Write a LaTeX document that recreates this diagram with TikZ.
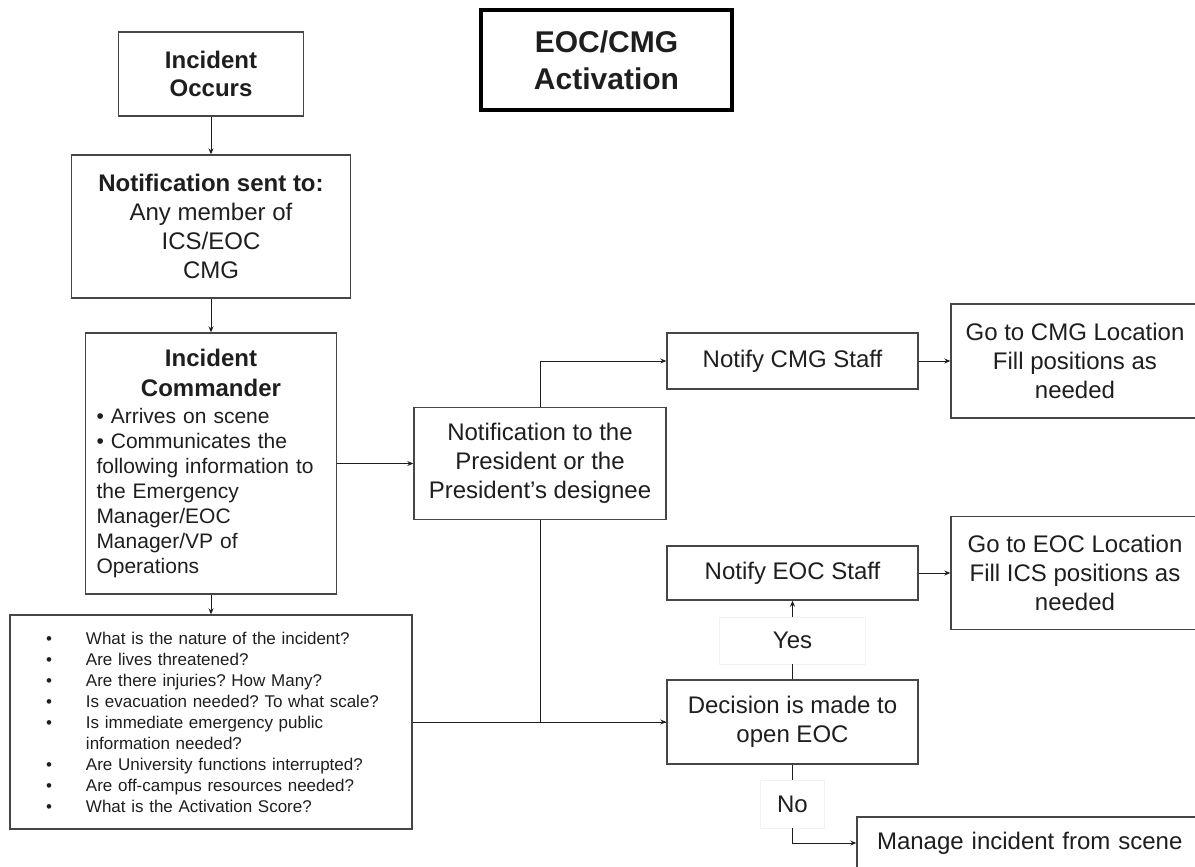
\documentclass[tikz,border=0pt]{standalone}
\usepackage{fontspec}
\setmainfont{Liberation Sans}
\usepackage{tikz}
\usetikzlibrary{arrows.meta}
\definecolor{BoxLine}{RGB}{70,70,70}
\definecolor{InkGray}{RGB}{30,30,30}
\setlength{\parindent}{0pt}
\frenchspacing
\newcommand{\qbul}{\hspace*{26pt}\makebox[40pt][l]{•}}
\newcommand{\ichead}[1]{\makebox[229pt]{\fontsize{24}{25}\selectfont\bfseries #1}}

\begin{document}
\begin{tikzpicture}[x=1pt, y=-1pt,
    frame/.style={draw=BoxLine, line width=1.4pt, text=InkGray, inner sep=0pt,
                  font=\fontsize{24}{29}\selectfont},
    box/.style={frame, align=center},
    tag/.style={draw=black!5, line width=0.8pt, text=InkGray, inner sep=0pt,
                font=\fontsize{24}{29}\selectfont},
    flow/.style={draw=InkGray, line width=1pt, -{Stealth[length=6pt, width=5pt]}},
    wire/.style={draw=InkGray, line width=1pt}]

      \useasboundingbox (0,0) rectangle (1195,867);
      \clip (0,0) rectangle (1195,867);

      % Title box
      \node[box, draw=black, line width=3.5pt, minimum width=251pt, minimum height=100pt,
            font=\fontsize{30}{37}\selectfont\bfseries]
            (title) at (606.5, 60) {EOC/CMG\\Activation};

      % Left column
      \node[box, minimum width=185pt, minimum height=84pt,
            font=\fontsize{24}{28}\selectfont\bfseries]
            (occ) at (211, 74) {Incident\\Occurs};

      \node[box, minimum width=279pt, minimum height=143pt]
            (sent) at (211, 226.5)
            {\textbf{Notification sent to:}\\Any member of\\ICS/EOC\\CMG};

      \node[box, align=left, minimum width=251pt, minimum height=261pt, text width=229pt,
            font=\fontsize{21}{25}\selectfont]
            (ic) at (211, 463.5)
            {\ichead{Incident}\\[5pt]
             \ichead{Commander}\\[2pt]
             • Arrives on scene\\• Communicates the\\following information to\\the Emergency\\Manager/EOC\\Manager/VP of\\Operations};

      \node[box, align=left, minimum width=402pt, minimum height=214pt, text width=382pt,
            font=\fontsize{17}{21}\selectfont]
            (qs) at (211, 722)
            {\qbul What is the nature of the incident?\\
             \qbul Are lives threatened?\\
             \qbul Are there injuries? How Many?\\
             \qbul Is evacuation needed? To what scale?\\
             \qbul Is immediate emergency public\\
             \hspace*{66pt}information needed?\\
             \qbul Are University functions interrupted?\\
             \qbul Are off-campus resources needed?\\
             \qbul What is the Activation Score?};

      % President and CMG branch
      \node[box, minimum width=252pt, minimum height=112pt]
            (pres) at (540, 463.5)
            {Notification to the\\President or the\\President’s designee};

      \node[box, minimum width=251pt, minimum height=56pt]
            (cmg) at (792.5, 361) {Notify CMG Staff};

      \node[box, minimum width=248pt, minimum height=114pt]
            (gocmg) at (1075, 361) {Go to CMG Location\\Fill positions as\\needed};

      % EOC branch
      \node[box, minimum width=251pt, minimum height=54pt]
            (eoc) at (792.5, 573) {Notify EOC Staff};

      \node[box, minimum width=248pt, minimum height=113pt]
            (goeoc) at (1075, 573) {Go to EOC Location\\Fill ICS positions as\\needed};

      \node[tag, minimum width=146pt, minimum height=47pt]
            (yes) at (792.5, 640.5) {Yes};

      \node[box, minimum width=251pt, minimum height=84pt]
            (dec) at (792.5, 722) {Decision is made to\\open EOC};

      \node[tag, minimum width=64pt, minimum height=48pt]
            (no) at (792.5, 804) {No};

      \node[box, align=left, minimum width=353pt, minimum height=52pt, text width=313pt]
            (man) at (1033.5, 843) {Manage incident from scene};

      % connectors
      \draw[flow] (occ) -- (sent);
      \draw[flow] (sent) -- (ic);
      \draw[flow] (ic) -- (qs);
      \draw[flow] (ic) -- (pres);
      \draw[flow] (pres.north) |- (cmg.west);
      \draw[flow] (cmg) -- (gocmg);
      \draw[wire] (pres.south) |- (dec.west);
      \draw[flow] (qs) -- (dec);
      \draw[wire] (dec) -- (yes);
      \draw[flow] (yes) -- (eoc);
      \draw[flow] (eoc.east) -- (eoc.east -| goeoc.west);
      \draw[wire] (dec) -- (no);
      \draw[flow] (no.south) |- (man.west);

\end{tikzpicture}
\end{document}
